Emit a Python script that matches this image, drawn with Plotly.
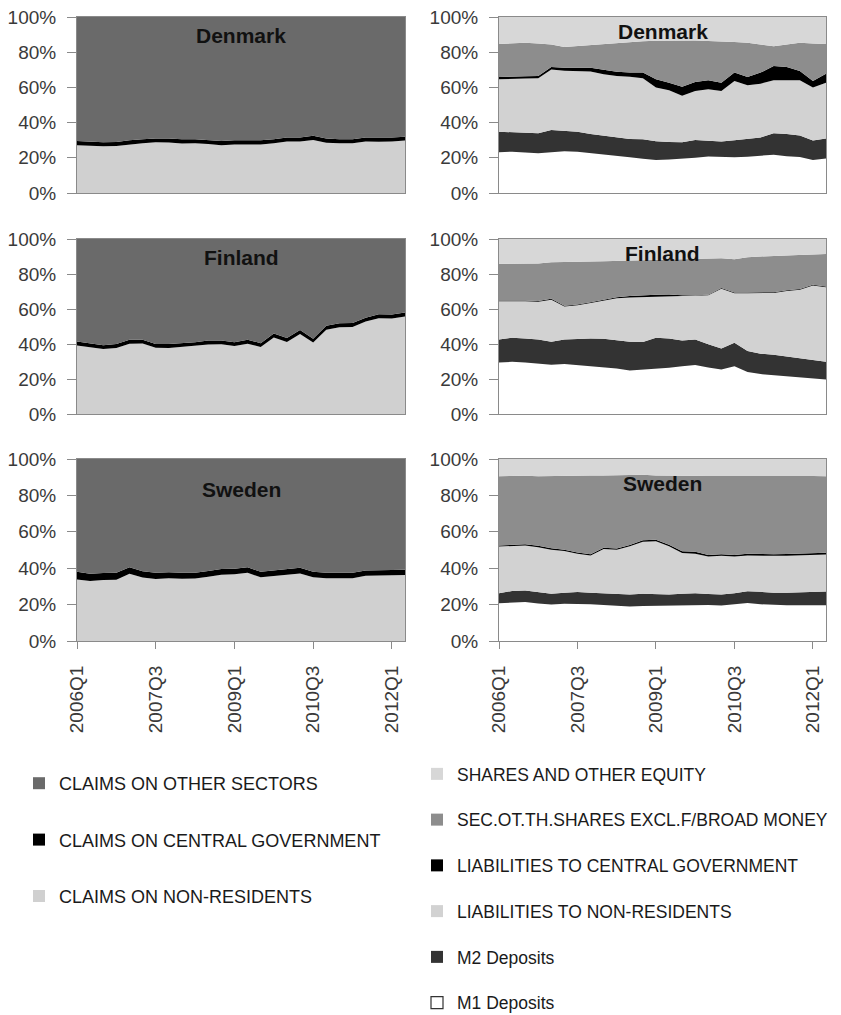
import plotly.graph_objects as go

quarters = ["2006Q1", "2006Q2", "2006Q3", "2006Q4", "2007Q1", "2007Q2", "2007Q3", "2007Q4",
            "2008Q1", "2008Q2", "2008Q3", "2008Q4", "2009Q1", "2009Q2", "2009Q3", "2009Q4",
            "2010Q1", "2010Q2", "2010Q3", "2010Q4", "2011Q1", "2011Q2", "2011Q3", "2011Q4",
            "2012Q1", "2012Q2"]
tick_labels = ["2006Q1", "2007Q3", "2009Q1", "2010Q3", "2012Q1"]
y_tick_vals = [0, 20, 40, 60, 80, 100]
y_tick_text = ["0%", "20%", "40%", "60%", "80%", "100%"]
countries = ["Denmark", "Finland", "Sweden"]

# ---- Assets (left column), shares in % ----
dk_claims_nonres = [27.1, 26.7, 26.6, 26.7, 27.6, 28.2, 28.8, 28.7, 28.1, 28.2, 27.8, 27.2, 27.6,
                    27.7, 27.6, 28.2, 29.3, 29.2, 30.1, 28.6, 28.2, 28.3, 29.2, 29.1, 29.2, 29.8]
dk_claims_gov = [2.4, 2.3, 2.2, 2.3, 2.4, 2.3, 2.2, 2.3, 2.4, 2.3, 2.2, 2.3, 2.4,
                 2.3, 2.4, 2.3, 2.2, 2.3, 2.4, 2.4, 2.3, 2.2, 2.3, 2.4, 2.3, 2.2]
dk_claims_other = [70.5, 71.0, 71.2, 71.0, 70.0, 69.5, 69.0, 69.0, 69.5, 69.5, 70.0, 70.5, 70.0,
                   70.0, 70.0, 69.5, 68.5, 68.5, 67.5, 69.0, 69.5, 69.5, 68.5, 68.5, 68.5, 68.0]

fi_claims_nonres = [39.2, 38.3, 37.1, 37.7, 40.2, 40.3, 37.8, 37.7, 38.3, 38.8, 39.7, 39.8, 38.8,
                    40.2, 38.3, 43.7, 41.2, 45.7, 40.8, 48.2, 49.6, 49.7, 52.8, 54.7, 54.6, 55.7]
fi_claims_gov = [2.3, 2.2, 2.2, 2.3, 2.3, 2.2, 2.2, 2.3, 2.2, 2.2, 2.3, 2.2, 2.2,
                 2.3, 2.2, 2.3, 2.2, 2.3, 2.2, 2.3, 2.2, 2.3, 2.2, 2.3, 2.2, 2.3]
fi_claims_other = [58.5, 59.5, 60.7, 60.0, 57.5, 57.5, 60.0, 60.0, 59.5, 59.0, 58.0, 58.0, 59.0,
                   57.5, 59.5, 54.0, 56.6, 52.0, 57.0, 49.5, 48.2, 48.0, 45.0, 43.0, 43.2, 42.0]

se_claims_nonres = [33.8, 33.0, 33.5, 33.7, 36.9, 34.9, 34.1, 34.5, 34.2, 34.3, 35.3, 36.4, 36.7,
                    37.5, 35.0, 35.7, 36.2, 37.1, 35.0, 34.5, 34.5, 34.5, 35.9, 36.1, 36.1, 36.3]
se_claims_gov = [4.2, 4.0, 3.8, 3.8, 3.6, 3.4, 3.4, 3.3, 3.3, 3.2, 3.2, 3.1, 3.0,
                 3.0, 3.0, 3.1, 3.1, 3.1, 3.0, 3.0, 3.0, 3.0, 2.9, 2.9, 2.9, 2.9]
se_claims_other = [62.0, 63.0, 62.7, 62.5, 59.5, 61.7, 62.5, 62.2, 62.5, 62.5, 61.5, 60.5, 60.3,
                   59.5, 62.0, 61.2, 60.7, 59.8, 62.0, 62.5, 62.5, 62.5, 61.2, 61.0, 61.0, 60.8]

# ---- Liabilities (right column), shares in % ----
dk_m1 = [23.2, 23.5, 23.0, 22.6, 23.2, 23.7, 23.5, 22.8, 22.0, 21.3, 20.3, 19.5, 18.8,
         19.0, 19.4, 20.0, 20.7, 20.5, 20.3, 20.6, 21.0, 21.8, 20.9, 20.5, 18.8, 19.6]
dk_m2 = [11.6, 11.0, 11.0, 11.4, 12.6, 11.8, 11.3, 10.7, 10.5, 10.2, 10.4, 11.0, 10.6,
         10.0, 9.4, 10.1, 8.8, 8.7, 9.7, 10.2, 10.6, 12.1, 12.6, 12.1, 11.0, 11.4]
dk_liab_nonres = [29.8, 30.5, 31.0, 31.2, 34.4, 34.0, 34.4, 35.5, 35.0, 35.0, 35.3, 34.7, 30.5,
                  29.4, 26.4, 27.9, 29.5, 28.8, 33.7, 30.4, 30.5, 30.1, 30.5, 31.4, 30.1, 31.7]
dk_liab_gov = [1.3, 1.3, 1.4, 1.3, 1.4, 1.7, 1.8, 2.2, 2.5, 2.4, 2.5, 3.2, 4.7,
               4.3, 5.1, 5.1, 5.0, 4.7, 4.7, 4.7, 6.3, 8.1, 7.6, 5.3, 3.8, 5.1]
dk_sec = [18.8, 18.7, 18.9, 18.5, 12.8, 11.7, 12.5, 12.8, 14.4, 16.1, 17.1, 17.8, 21.9,
          23.9, 26.3, 23.5, 22.4, 23.5, 17.4, 19.4, 16.0, 11.3, 12.8, 16.0, 21.3, 16.9]
dk_shares = [15.3, 15.0, 14.7, 15.0, 15.6, 17.1, 16.5, 16.0, 15.6, 15.0, 14.4, 13.8, 13.5,
             13.4, 13.4, 13.4, 13.6, 13.8, 14.2, 14.7, 15.6, 16.6, 15.6, 14.7, 15.0, 15.3]

fi_m1 = [29.4, 29.8, 29.4, 28.8, 28.2, 28.6, 28.0, 27.5, 27.0, 26.0, 24.8, 25.2, 25.8,
         26.4, 27.3, 28.0, 26.6, 25.5, 27.3, 24.0, 22.8, 22.2, 21.3, 20.6, 20.0, 19.7]
fi_m2 = [13.2, 13.8, 13.8, 13.8, 13.1, 14.0, 14.8, 15.7, 16.0, 16.3, 16.5, 16.0, 17.8,
         16.8, 14.7, 14.6, 13.2, 12.0, 13.4, 12.0, 11.7, 11.6, 11.5, 11.4, 11.0, 10.2]
fi_liab_nonres = [21.8, 21.0, 21.3, 21.6, 24.0, 18.9, 19.4, 20.3, 22.0, 23.9, 25.3, 25.6, 23.4,
                  24.3, 25.3, 24.9, 28.0, 34.1, 28.3, 33.0, 34.5, 35.4, 37.5, 39.0, 42.5, 42.6]
fi_liab_gov = [0.4, 0.4, 0.4, 0.4, 0.5, 0.4, 0.4, 0.4, 0.4, 0.5, 0.8, 1.2, 1.2,
               0.8, 0.5, 0.4, 0.4, 0.4, 0.4, 0.4, 0.4, 0.4, 0.4, 0.4, 0.4, 0.4]
fi_sec = [21.0, 20.8, 20.9, 21.4, 20.9, 25.1, 24.4, 23.3, 21.9, 20.8, 20.4, 20.0, 19.8,
          19.9, 20.6, 20.7, 20.6, 17.0, 19.1, 20.2, 20.6, 20.7, 20.0, 19.7, 17.4, 18.6]
fi_shares = [14.2, 14.2, 14.2, 14.0, 13.3, 13.0, 13.0, 12.8, 12.7, 12.5, 12.2, 12.0, 12.0,
             11.8, 11.6, 11.4, 11.2, 11.0, 11.5, 10.4, 10.0, 9.7, 9.3, 8.9, 8.7, 8.5]

se_m1 = [20.8, 21.2, 21.4, 20.6, 20.1, 20.4, 20.5, 20.2, 19.8, 19.3, 19.0, 19.2, 19.3,
         19.5, 19.8, 20.0, 19.8, 19.5, 20.1, 20.9, 20.2, 19.8, 19.6, 19.6, 19.7, 19.6]
se_m2 = [5.5, 6.3, 6.4, 6.4, 5.9, 6.1, 6.4, 6.3, 6.4, 6.5, 6.6, 6.8, 6.3,
         6.1, 6.2, 6.2, 6.0, 6.1, 6.2, 6.5, 6.8, 6.7, 6.9, 7.2, 7.5, 7.6]
se_liab_nonres = [25.6, 24.8, 24.7, 24.5, 24.1, 23.0, 21.0, 20.5, 24.4, 24.3, 26.4, 28.5, 29.2,
                  26.4, 22.3, 21.8, 20.6, 21.2, 20.1, 19.6, 19.8, 20.3, 20.4, 20.2, 20.0, 20.3]
se_liab_gov = [0.6, 0.7, 0.7, 0.8, 0.8, 0.7, 0.7, 0.6, 0.6, 0.7, 0.8, 0.8, 0.8,
               0.9, 1.0, 1.0, 0.9, 0.9, 0.9, 0.9, 0.9, 0.9, 0.9, 0.9, 1.0, 1.0]
se_sec = [38.0, 37.8, 37.6, 38.2, 39.6, 40.5, 42.2, 43.3, 39.8, 40.4, 38.6, 36.0, 35.4,
          37.9, 41.4, 41.6, 43.3, 42.9, 43.2, 42.6, 42.9, 43.0, 43.0, 42.9, 42.5, 42.0]
se_shares = [9.5, 9.2, 9.2, 9.5, 9.5, 9.3, 9.2, 9.1, 9.0, 8.8, 8.6, 8.7, 9.0,
             9.2, 9.3, 9.4, 9.4, 9.4, 9.5, 9.5, 9.4, 9.3, 9.2, 9.2, 9.3, 9.5]

left_names = ["CLAIMS ON NON-RESIDENTS", "CLAIMS ON CENTRAL GOVERNMENT", "CLAIMS ON OTHER SECTORS"]
left_colors = ["#d0d0d0", "#000000", "#6a6a6a"]
right_names = ["M1 Deposits", "M2 Deposits", "LIABILITIES TO NON-RESIDENTS",
               "LIABILITIES TO CENTRAL GOVERNMENT", "SEC.OT.TH.SHARES EXCL.F/BROAD MONEY",
               "SHARES AND OTHER EQUITY"]
right_colors = ["#ffffff", "#333333", "#d2d2d2", "#000000", "#8d8d8d", "#d7d7d7"]

left_data = [
    [dk_claims_nonres, dk_claims_gov, dk_claims_other],
    [fi_claims_nonres, fi_claims_gov, fi_claims_other],
    [se_claims_nonres, se_claims_gov, se_claims_other],
]
right_data = [
    [dk_m1, dk_m2, dk_liab_nonres, dk_liab_gov, dk_sec, dk_shares],
    [fi_m1, fi_m2, fi_liab_nonres, fi_liab_gov, fi_sec, fi_shares],
    [se_m1, se_m2, se_liab_nonres, se_liab_gov, se_sec, se_shares],
]

# The page body adds an 8px offset; work in page pixels and subtract it.
PAGE_OFF = 8
W, H = 841 - PAGE_OFF, 1015 - PAGE_OFF
col_px = [(77, 405), (499, 826)]
row_px = [(17, 193), (239, 414), (459, 641)]
title_off = [[18, 15], [19, 15], [30, 24]]  # px below plot top (left, right)


def fx(px):
    return (px - PAGE_OFF) / W


def fy(py):
    return 1 - (py - PAGE_OFF) / H


FONT = "Liberation Sans, Arial, sans-serif"
TICK_FONT = dict(family=FONT, size=19, color="#3a3a3a")
AXIS_COLOR = "#8a8a8a"

fig = go.Figure()
layout = dict(
    width=W, height=H, margin=dict(l=0, r=0, t=0, b=0, autoexpand=False),
    paper_bgcolor="white", plot_bgcolor="white", showlegend=True,
    annotations=[],
)

for r in range(3):
    for c in range(2):
        k = r * 2 + c + 1
        xa = "x" if k == 1 else f"x{k}"
        ya = "y" if k == 1 else f"y{k}"
        series = left_data[r] if c == 0 else right_data[r]
        names = left_names if c == 0 else right_names
        colors = left_colors if c == 0 else right_colors
        for vals, nm, colr in zip(series, names, colors):
            fig.add_trace(go.Scatter(
                x=quarters, y=vals, name=nm, mode="lines",
                line=dict(width=0, color=colr), fillcolor=colr,
                stackgroup=f"s{k}", groupnorm="percent",
                xaxis=xa, yaxis=ya, showlegend=False, hoverinfo="skip",
            ))
        x0, x1 = col_px[c]
        y0, y1 = row_px[r]
        bottom = (r == 2)
        layout["xaxis" if k == 1 else f"xaxis{k}"] = dict(
            domain=[fx(x0), fx(x1)], anchor=ya,
            type="category", categoryorder="array", categoryarray=quarters,
            range=[0, len(quarters) - 1], tickvals=tick_labels, ticktext=tick_labels,
            showticklabels=bottom, ticks="outside" if bottom else "", ticklen=7,
            tickcolor=AXIS_COLOR, tickangle=-90, tickfont=TICK_FONT, ticklabelstandoff=9,
            ticklabeloverflow="allow",
            showline=True, linecolor=AXIS_COLOR, linewidth=1, mirror=True,
            showgrid=False, zeroline=False, fixedrange=True, automargin=False,
        )
        layout["yaxis" if k == 1 else f"yaxis{k}"] = dict(
            domain=[fy(y1), fy(y0)], anchor=xa,
            range=[0, 100], tickmode="array", tickvals=y_tick_vals, ticktext=y_tick_text,
            ticks="outside", ticklen=9, tickcolor=AXIS_COLOR, tickfont=TICK_FONT,
            ticklabelstandoff=7, ticklabeloverflow="allow",
            showline=True, linecolor=AXIS_COLOR, linewidth=1, mirror=True,
            showgrid=False, zeroline=False, fixedrange=True, automargin=False,
        )
        ph = y1 - y0
        layout["annotations"].append(dict(
            text=f"<b>{countries[r]}</b>", xref=f"{xa} domain", yref=f"{ya} domain",
            x=0.5, y=1 - title_off[r][c] / ph, xanchor="center", yanchor="middle",
            showarrow=False, font=dict(family=FONT, size=21, color="#111111"),
        ))

# Legend entries (square swatches like the original)
left_legend_order = [2, 1, 0]
right_legend_order = [5, 4, 3, 2, 1, 0]
for i in left_legend_order:
    fig.add_trace(go.Scatter(
        x=[None], y=[None], mode="markers", name=left_names[i], legend="legend",
        legendgroup=f"L{i}",
        marker=dict(symbol="square", size=12, color=left_colors[i], line=dict(width=0)),
    ))
for i in right_legend_order:
    fig.add_trace(go.Scatter(
        x=[None], y=[None], mode="markers", name=right_names[i], legend="legend2",
        legendgroup=f"R{i}",
        marker=dict(symbol="square", size=12, color=right_colors[i],
                    line=dict(width=1.2 if i == 0 else 0, color="#333333")),
    ))

layout["legend"] = dict(
    x=fx(19), y=fy(765), xanchor="left", yanchor="top",
    orientation="v", traceorder="grouped", tracegroupgap=30,
    font=dict(family=FONT, size=18, color="#1a1a1a"),
    bgcolor="rgba(0,0,0,0)", itemclick=False, itemdoubleclick=False,
)
layout["legend2"] = dict(
    x=fx(417), y=fy(756), xanchor="left", yanchor="top",
    orientation="v", traceorder="grouped", tracegroupgap=20,
    font=dict(family=FONT, size=17.5, color="#1a1a1a"),
    bgcolor="rgba(0,0,0,0)", itemclick=False, itemdoubleclick=False,
)

fig.update_layout(**layout)
fig.write_html("out.html")
